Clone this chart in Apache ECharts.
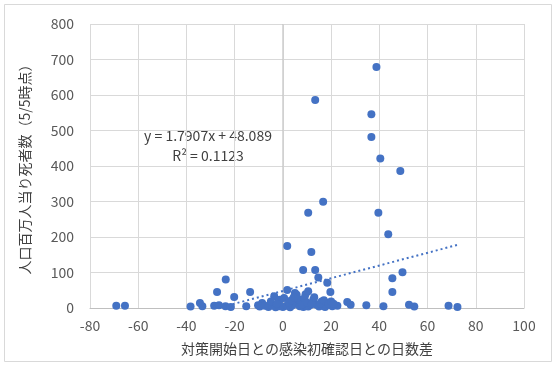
<!DOCTYPE html>
<html><head><meta charset="utf-8">
<script src="https://cdn.jsdelivr.net/npm/echarts@6/dist/echarts.min.js"></script>
<style>html,body{margin:0;padding:0;background:#fff}#c{width:558px;height:368px}</style>
</head><body><div id="c"></div>
<script>
// Days difference (x) and deaths per million (y)
const xDays = [38.8,13.4,36.7,36.7,40.4,48.7,16.7,10.5,39.6,43.7,1.8,11.8,8.4,13.4,49.6,14.7,45.4,18.4,45.4,19.7,1.8,10.5,9.4,-23.7,-27.3,-20.2,-13.6,-3.6,5,5.7,-1.2,12.6,16.1,26.7,-34.4,-8.6,6.4,18.2,
 -69.1,-65.5,-38.3,-33.4,-28.5,-26.5,-23.8,-21.6,-15.2,-10.3,-9.6,-7.5,-6,-4.5,-3,-1.5,0,1.5,3,4,7,8.5,9.5,10.5,11.5,14,15,16.5,17.5,19.5,20.5,22.6,28.1,34.6,41.7,52.3,54.5,68.7,72.4,
 -5,-2.5,0.5,2.5,3.5,4.5,6.5,7.5,8,9,10,12,13,15.5,17,19,20,21];
const yDeaths = [679,586,546,482,421,386,299,268,268,208,175,158,107,107,101,86,84,71,45,45,51,47,39,80,45,31,45,33,42,37,23,23,18,17,14,14,14,15,
 6,6,4,5,6,8,5,3,5,8,4,6,3,7,2,5,3,6,2,8,5,3,7,4,9,9,4,6,3,9,5,6,9,8,5,9,4,6,3,
 18,12,28,15,22,30,25,18,10,28,15,12,30,13,22,11,18,12];
const xTicks = [-80,-60,-40,-20,0,20,40,60,80,100];
const yTicks = [0,100,200,300,400,500,600,700,800];
const trendSlope = 1.7907, trendIntercept = 48.089;
const trendEq = 'y = 1.7907x + 48.089';
const trendR2 = 'R² = 0.1123';
const xTitle = '対策開始日との感染初確認日との日数差';
const yTitle = '人口百万人当り死者数（5/5時点）';

const pts = xDays.map((x,i)=>[x,yDeaths[i]]);
const xmin = Math.min(...xDays), xmax = Math.max(...xDays);
let xs = xmin;
if (trendSlope*xs + trendIntercept < 0) xs = -trendIntercept/trendSlope;
const trend = [[xs, trendSlope*xs+trendIntercept],[xmax, trendSlope*xmax+trendIntercept]];

const font = '"Noto Sans CJK JP", "Noto Sans", sans-serif';
const chart = echarts.init(document.getElementById('c'), null, {renderer:'canvas'});
chart.setOption({
  backgroundColor:'#fff',
  animation:false,
  grid:{left:90, right:34, top:24, bottom:60},
  xAxis:{type:'value', min:xTicks[0], max:xTicks[xTicks.length-1], interval:20,
    name:xTitle, nameLocation:'middle', nameGap:34,
    nameTextStyle:{fontFamily:font, fontSize:14, color:'#404040'},
    axisLine:{show:true, onZero:false, lineStyle:{color:'#BFBFBF'}},
    axisTick:{show:false},
    axisLabel:{fontFamily:font, fontSize:14, color:'#595959', margin:11},
    splitLine:{show:true, lineStyle:{color:'#D9D9D9'}}},
  yAxis:{type:'value', min:yTicks[0], max:yTicks[yTicks.length-1], interval:100,
    name:yTitle, nameLocation:'middle', nameGap:58,
    nameTextStyle:{fontFamily:font, fontSize:14, color:'#404040'},
    axisLine:{show:false}, axisTick:{show:false},
    axisLabel:{fontFamily:font, fontSize:14, color:'#595959', margin:16},
    splitLine:{show:true, lineStyle:{color:'#D9D9D9'}}},
  graphic:[
    {type:'rect', shape:{x:4.5,y:4.5,width:547,height:357}, style:{fill:null, stroke:'#D9D9D9', lineWidth:1}, silent:true, z:-1},
    {type:'text', x:208, y:136, style:{text:trendEq, fontFamily:font, fontSize:14, fill:'#404040', textAlign:'center', textVerticalAlign:'middle'}},
    {type:'text', x:208, y:156, style:{text:trendR2, fontFamily:font, fontSize:14, fill:'#404040', textAlign:'center', textVerticalAlign:'middle'}}
  ],
  series:[
    {type:'line', data:[[0,yTicks[0]],[0,yTicks[yTicks.length-1]]], symbol:'none', silent:true,
     lineStyle:{color:'#C4C4C4', width:1}, z:1},
    {type:'line', data:trend, symbol:'none', silent:true,
     lineStyle:{color:'#4472C4', width:2, type:[2,3]}, z:2},
    {type:'scatter', data:pts, symbolSize:8, itemStyle:{color:'#4472C4', opacity:1}, z:3}
  ]
});
</script></body></html>
